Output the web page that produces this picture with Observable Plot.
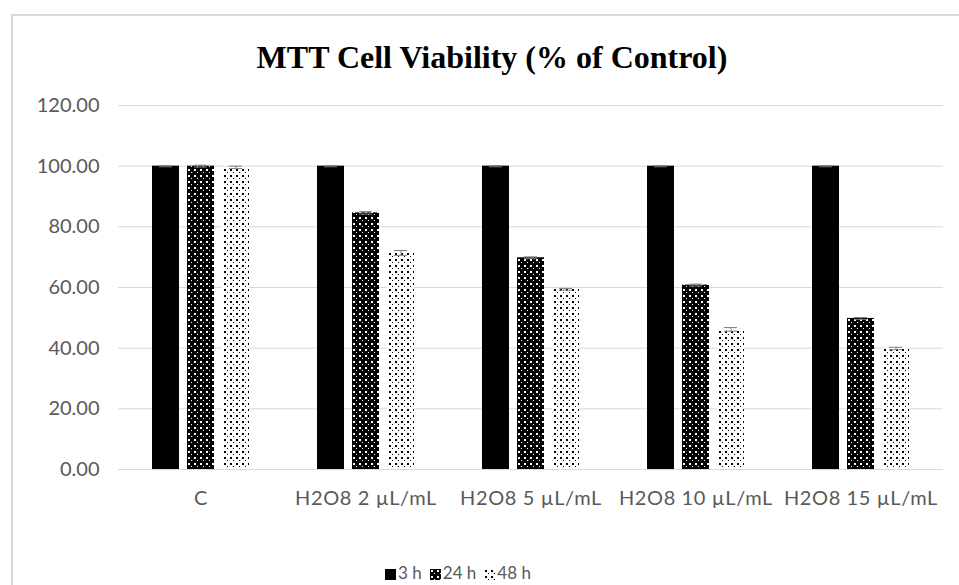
<!DOCTYPE html>
<html>
<head>
<meta charset="utf-8">
<script src="https://cdn.jsdelivr.net/npm/d3@7"></script>
<script src="https://cdn.jsdelivr.net/npm/@observablehq/plot@0.6"></script>
<style>
  html, body { margin: 0; padding: 0; background: #fff; width: 959px; height: 585px; overflow: hidden; }
  #frame { position: absolute; left: 11px; top: 14px; width: 1000px; height: 640px; border: 2px solid #d9d9d9; box-sizing: border-box; }
  #title { position: absolute; left: 0; top: 37px; width: 984px; text-align: center; font-family: "Liberation Serif", serif; font-weight: bold; font-size: 32px; line-height: 40px; color: #000; }
  #chart { position: absolute; left: 0; top: 0; }
  #legend { position: absolute; left: 0; top: 563px; width: 916px; text-align: center; font-family: Lato, sans-serif; font-size: 17px; line-height: 20px; color: #595959; white-space: nowrap; }
  #legend span.item { margin: 0 4px; }
  #legend svg { vertical-align: -1px; margin-right: 2px; }
</style>
</head>
<body>
<div id="frame"></div>
<div id="title">MTT Cell Viability (% of Control)</div>
<div id="chart"></div>
<div id="legend"></div>
<script>
const categories = ["C", "H2O8 2 µL/mL", "H2O8 5 µL/mL", "H2O8 10 µL/mL", "H2O8 15 µL/mL"];
const series = ["3 h", "24 h", "48 h"];
const values3h  = [100, 100, 100, 100, 100];
const values24h = [100, 84.6, 69.8, 60.8, 49.8];
const values48h = [99.6, 71.4, 59.4, 46.2, 39.9];
const err3h  = [0.2, 0.2, 0.2, 0.2, 0.2];
const err24h = [0.3, 0.4, 0.3, 0.3, 0.3];
const err48h = [0.4, 0.8, 0.3, 0.6, 0.4];
const yTicks = [0, 20, 40, 60, 80, 100, 120];

const fills = ["#000000", "url(#pat24)", "url(#pat48)"];

const valueSets = [values3h, values24h, values48h];
const errSets = [err3h, err24h, err48h];
const rows = [];
categories.forEach((c, i) => {
  series.forEach((s, j) => {
    rows.push({category: c, series: s, value: valueSets[j][i], err: errSets[j][i]});
  });
});

const svg = Plot.plot({
  width: 959,
  height: 520,
  marginLeft: 117,
  marginRight: 16,
  marginTop: 105,
  marginBottom: 51,
  style: {fontFamily: "Lato, sans-serif", fontSize: "20px", color: "#595959", background: "transparent"},
  fx: {domain: categories, padding: 0, label: null},
  x: {domain: series, paddingInner: 0.22, paddingOuter: 0.906, axis: null},
  y: {domain: [0, 120], label: null},
  color: {domain: series, range: fills},
  marks: [
    Plot.gridY(yTicks, {stroke: "#d9d9d9", strokeOpacity: 1, strokeWidth: 1}),
    Plot.axisY(yTicks, {tickSize: 0, tickPadding: 19, tickFormat: d => d.toFixed(2), fill: "#595959", fontSize: 20, label: null}),
    Plot.axisFx({anchor: "bottom", tickSize: 0, tickPadding: 21, fill: "#595959", fontSize: 20, label: null}),
    Plot.barY(rows, {fx: "category", x: "series", y: "value", fill: "series"}),
    Plot.ruleX(rows, {fx: "category", x: "series", y1: d => d.value - d.err, y2: d => d.value + d.err, stroke: "#7f7f7f", strokeWidth: 1}),
    Plot.tickY(rows, {fx: "category", x: "series", y: d => d.value + d.err, stroke: "#7f7f7f", strokeWidth: 1, insetLeft: 7, insetRight: 7}),
    Plot.tickY(rows, {fx: "category", x: "series", y: d => d.value - d.err, stroke: "#7f7f7f", strokeWidth: 1, insetLeft: 7, insetRight: 7})
  ]
});

function addPatterns(svgNode) {
  const defs = d3.select(svgNode).insert("defs", ":first-child");
  const p24 = defs.append("pattern").attr("id", "pat24").attr("patternUnits", "userSpaceOnUse").attr("width", 6).attr("height", 6);
  p24.append("rect").attr("width", 6).attr("height", 6).attr("fill", "#000");
  p24.append("rect").attr("x", 1).attr("y", 1).attr("width", 2).attr("height", 2).attr("fill", "#fff");
  p24.append("rect").attr("x", 4).attr("y", 4).attr("width", 1).attr("height", 1).attr("fill", "#fff");
  const p48 = defs.append("pattern").attr("id", "pat48").attr("patternUnits", "userSpaceOnUse").attr("width", 6).attr("height", 6);
  p48.append("rect").attr("width", 6).attr("height", 6).attr("fill", "#fff");
  p48.append("rect").attr("x", 1).attr("y", 1).attr("width", 2).attr("height", 2).attr("fill", "#000");
  p48.append("rect").attr("x", 4).attr("y", 4).attr("width", 1).attr("height", 1).attr("fill", "#000");
}
addPatterns(svg);
// slightly wider letter spacing on category labels, as in the reference
d3.select(svg).selectAll("g[aria-label='fx-axis tick label'] text").style("letter-spacing", "0.6px");
document.getElementById("chart").appendChild(svg);

// Legend
const legend = d3.select("#legend");
series.forEach((s, j) => {
  const item = legend.append("span").attr("class", "item");
  const sw = item.append("svg").attr("width", 11).attr("height", 11);
  sw.append("rect").attr("width", 11).attr("height", 11).attr("fill", fills[j]);
  item.append("span").text(s);
});
</script>
</body>
</html>
